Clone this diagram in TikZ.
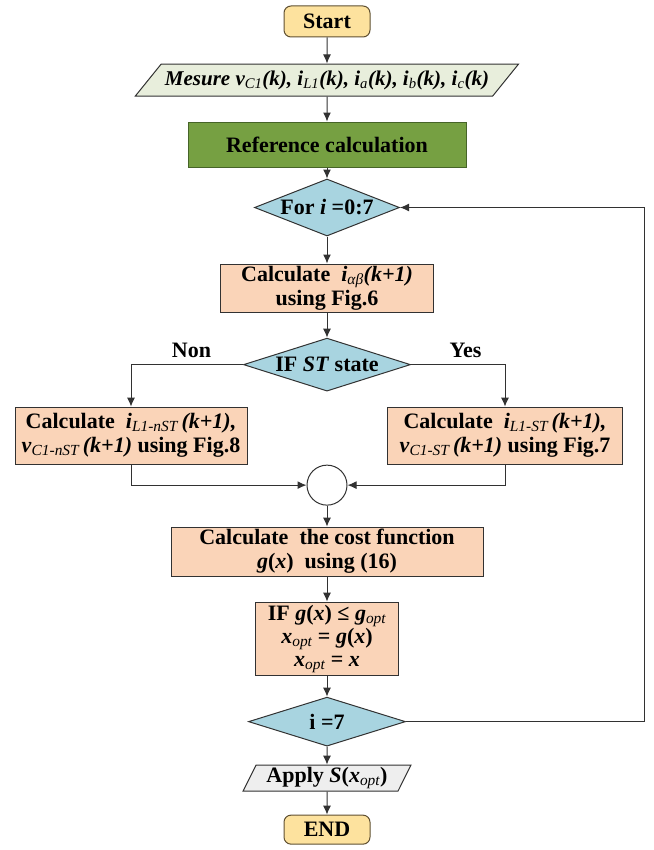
\documentclass[tikz,border=0pt]{standalone}
\usepackage{fontspec}
\setmainfont{Liberation Serif}
\usepackage{xcolor}
\usetikzlibrary{shapes.geometric, arrows.meta, positioning}

\definecolor{linegray}{RGB}{50,50,50}
\definecolor{termfill}{RGB}{253,226,158}
\definecolor{termline}{RGB}{95,80,50}
\definecolor{iofill}{RGB}{232,238,220}
\definecolor{reffill}{RGB}{118,160,66}
\definecolor{refline}{RGB}{70,100,40}
\definecolor{decfill}{RGB}{168,212,224}
\definecolor{procfill}{RGB}{250,212,184}
\definecolor{applyfill}{RGB}{238,238,238}

\newcommand{\lowidx}[1]{\textsubscript{\mdseries\itshape #1}}

\begin{document}
\begin{tikzpicture}[
    font=\fontsize{22}{24}\selectfont\bfseries,
    base/.style={draw=linegray, line width=1pt, align=center, inner sep=2pt},
    term/.style={base, rectangle, rounded corners=7pt, draw=termline, fill=termfill, minimum width=86pt, minimum height=31pt},
    io/.style={base, trapezium, trapezium stretches=true, minimum height=32pt},
    proc/.style={base, rectangle, fill=procfill, minimum height=49pt},
    decision/.style={base, diamond, aspect=3, inner sep=0pt, fill=decfill},
    junction/.style={base, circle, fill=white, minimum size=40pt, inner sep=0pt},
    arrow/.style={-{Latex[length=9pt,width=8pt]}, line width=1pt, draw=linegray}
]

\useasboundingbox (0,0) rectangle (653pt,-850pt);

% Main column
\node[term] (start) at (327pt,-21.5pt) {Start};
\node[io, fill=iofill, below=26pt of start, minimum width=385pt, trapezium left angle=42, trapezium right angle=138, font=\fontsize{21}{24}\selectfont\bfseries] (mesure)
    {\itshape Mesure v\lowidx{C1}(k), i\lowidx{L1}(k), i\lowidx{a}(k), i\lowidx{b}(k), i\lowidx{c}(k)};
\node[base, fill=reffill, draw=refline, below=25pt of mesure, minimum width=278pt, minimum height=45pt] (ref) {Reference calculation};
\node[decision, below=11pt of ref, minimum width=145pt, minimum height=57pt] (for) {For \textit{i} =0:7};
\node[proc, below=27pt of for, minimum width=213pt, minimum height=48pt] (alphabeta)
    {Calculate\ \ \textit{i}\lowidx{αβ}\textit{(k+1)}\\using Fig.6};
\node[decision, below=25pt of alphabeta, minimum width=167pt, minimum height=53pt] (ifst) {IF \textit{ST} state};

% Branches
\node[proc, below=15pt of ifst, xshift=-196pt, minimum width=232pt, minimum height=57pt] (nst)
    {Calculate\ \ \textit{i}\lowidx{L1-nST}\,\textit{(k+1),}\\\textit{v}\lowidx{C1-nST}\,\textit{(k+1)} using Fig.8};
\node[proc, below=15pt of ifst, xshift=178pt, minimum width=235pt, minimum height=57pt] (st)
    {Calculate\ \ \textit{i}\lowidx{L1-ST}\,\textit{(k+1),}\\\textit{v}\lowidx{C1-ST}\,\textit{(k+1)} using Fig.7};

% Merge and cost
\node[junction, below=73pt of ifst] (merge) {};
\node[proc, below=21pt of merge, minimum width=312pt, minimum height=49pt] (cost)
    {Calculate\ \ the cost function\\\textit{g}(\textit{x})\ \ using (16)};
\node[proc, below=25pt of cost, minimum width=143pt, minimum height=73pt, font=\fontsize{22}{23}\selectfont\bfseries] (gopt)
    {IF \textit{g}(\textit{x}) ≤ \textit{g}\lowidx{opt}\\\textit{x}\lowidx{opt} = \textit{g}(\textit{x})\\\textit{x}\lowidx{opt} = \textit{x}};
\node[decision, below=21pt of gopt, minimum width=157pt, minimum height=49pt] (last) {i =7};
\node[io, fill=applyfill, below=18pt of last, minimum width=168pt, minimum height=26pt, trapezium left angle=66, trapezium right angle=114] (apply)
    {Apply \textit{S}(\textit{x}\lowidx{opt})};
\node[term, below=23pt of apply, minimum height=29pt] (end) {END};

\coordinate[right=238pt of last.east] (loopcorner);

% Arrows
\draw[arrow] (start) -- (mesure);
\draw[arrow] (mesure) -- (ref);
\draw[arrow] (ref) -- (for);
\draw[arrow] (for) -- (alphabeta);
\draw[arrow] (alphabeta) -- (ifst);
\draw[arrow] (ifst.west) -| node[pos=0.23, above=3pt] {Non} (nst.north);
\draw[arrow] (ifst.east) -| node[pos=0.29, above=3pt] {Yes} (st.north);
\draw[arrow] (nst.south) |- (merge.west);
\draw[arrow] (st.south) |- (merge.east);
\draw[arrow] (merge) -- (cost);
\draw[arrow] (cost) -- (gopt);
\draw[arrow] (gopt) -- (last);
\draw[arrow] (last) -- (apply);
\draw[arrow] (apply) -- (end);
\draw[arrow] (last.east) -- (loopcorner) |- (for.east);

\end{tikzpicture}
\end{document}
